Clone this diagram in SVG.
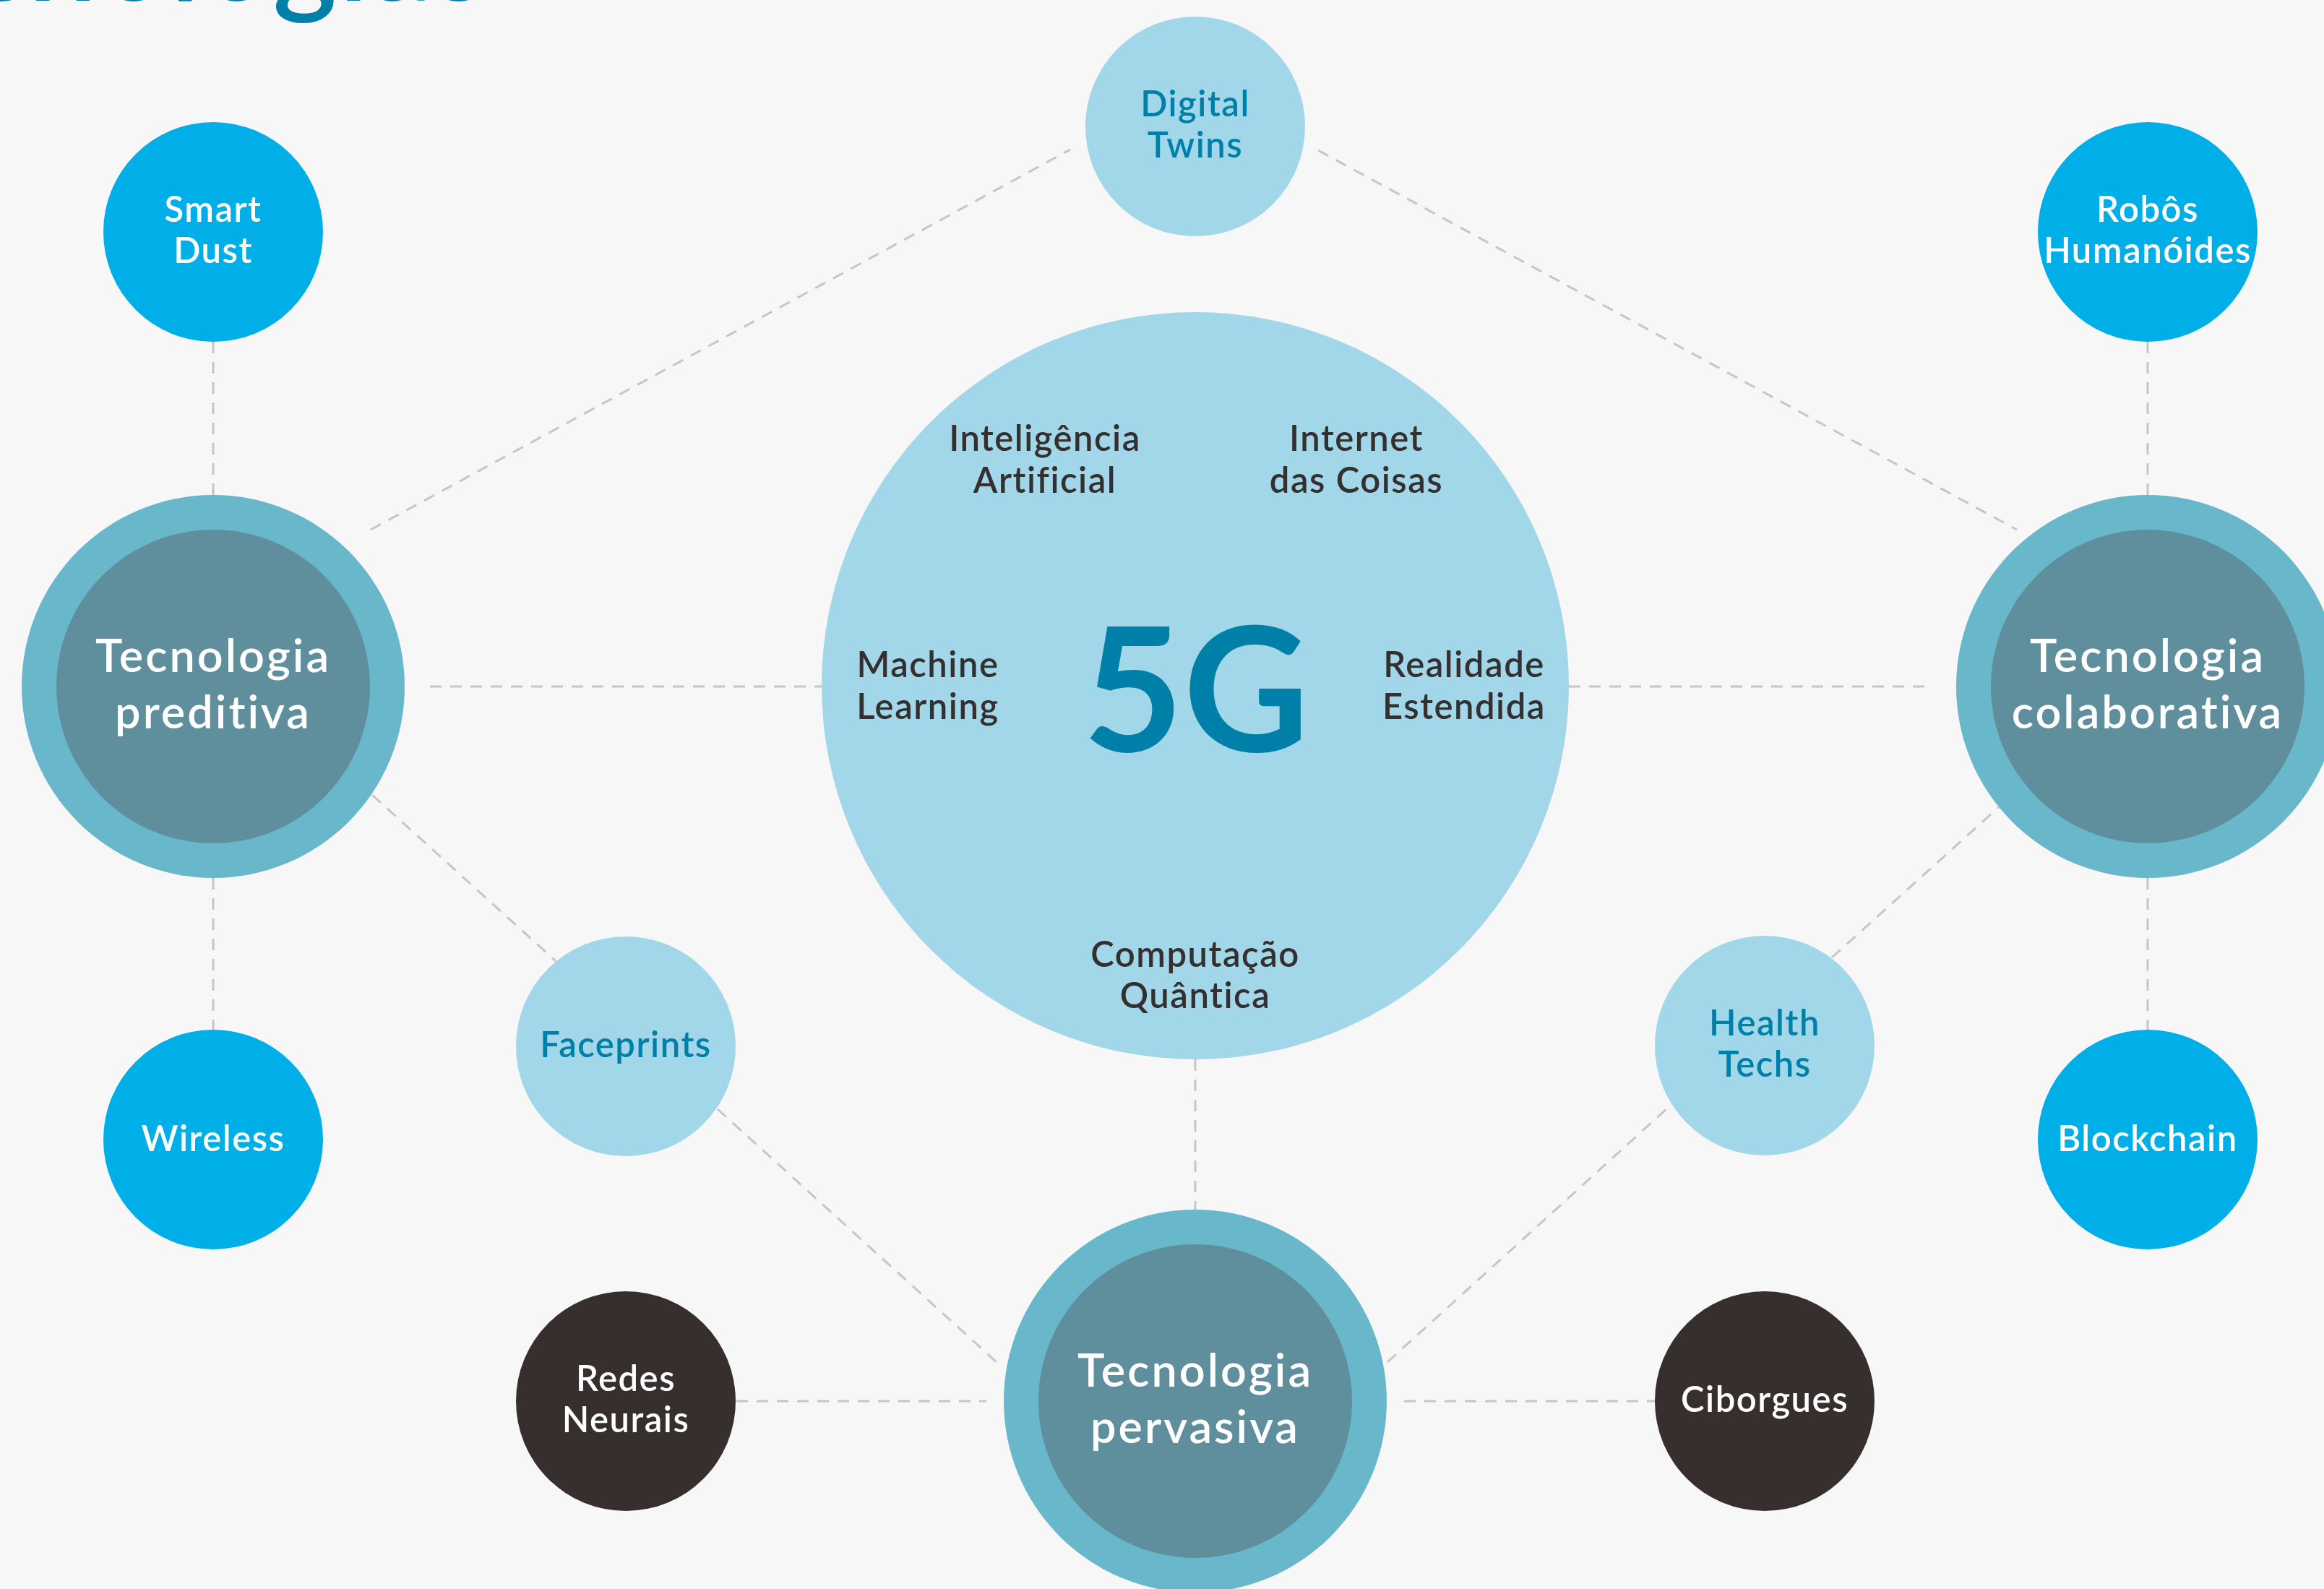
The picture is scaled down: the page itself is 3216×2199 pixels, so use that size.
<svg xmlns="http://www.w3.org/2000/svg" width="3216" height="2199" viewBox="0 0 3216 2199">
<style>
text{font-family:"Lato","Noto Sans","DejaVu Sans",sans-serif;text-anchor:middle}
.lbl{font-size:49px;font-weight:600;letter-spacing:1.5px}
.w{fill:#ffffff}
.b{fill:#0080a8}
.d{fill:#35302f}
.big{font-size:63px;font-weight:600;letter-spacing:3px;fill:#ffffff}
.lb{fill:#a1d7e8}
.bb{fill:#00aee8}
.dk{fill:#372f2e}
.ring{fill:#68b7cb}
.inner{fill:#5f8f9c}
.con line{stroke:#c6c6c6;stroke-width:3;stroke-dasharray:16 12;fill:none}
</style>
<rect width="3216" height="2199" fill="#f7f7f7"/>
<text x="676" y="1" style="font-size:170px;font-weight:600;letter-spacing:2px;text-anchor:end" fill="#0080a8">tecnologias</text>
<g id="connectors" class="con">
<line x1="295" y1="473" x2="295" y2="685"/>
<line x1="295" y1="1215" x2="295" y2="1425"/>
<line x1="2972" y1="473" x2="2972" y2="685"/>
<line x1="2972" y1="1215" x2="2972" y2="1425"/>
<line x1="1654" y1="1466" x2="1654" y2="1674"/>
<line x1="595" y1="950" x2="1137" y2="950"/>
<line x1="2171" y1="950" x2="2672" y2="950"/>
<line x1="1019" y1="1939" x2="1365" y2="1939"/>
<line x1="1943" y1="1939" x2="2290" y2="1939"/>
<line x1="513" y1="733" x2="1481" y2="207"/>
<line x1="1824" y1="208" x2="2791" y2="733"/>
<line x1="515" y1="1100" x2="769" y2="1330"/>
<line x1="993" y1="1535" x2="1379" y2="1885"/>
<line x1="1920" y1="1885" x2="2307" y2="1534"/>
<line x1="2535" y1="1325" x2="2766" y2="1117"/>
</g>
<g id="n5g">
<circle class="lb" cx="1654" cy="949" r="517"/>
<text x="1655" y="1040" style="font-size:240px;font-weight:700" fill="#0080a8">5G</text>
<text class="lbl d" x="1446" y="624">Inteligência</text>
<text class="lbl d" x="1446" y="682">Artificial</text>
<text class="lbl d" x="1877" y="624">Internet</text>
<text class="lbl d" x="1877" y="682">das Coisas</text>
<text class="lbl d" x="1284" y="937">Machine</text>
<text class="lbl d" x="1284" y="995">Learning</text>
<text class="lbl d" x="2026" y="937">Realidade</text>
<text class="lbl d" x="2026" y="995">Estendida</text>
<text class="lbl d" x="1654" y="1338">Computação</text>
<text class="lbl d" x="1654" y="1395">Quântica</text>
</g>
<g id="digital-twins">
<circle class="lb" cx="1654" cy="175" r="152"/>
<text class="lbl b" x="1654" y="161">Digital</text>
<text class="lbl b" x="1654" y="218">Twins</text>
</g>
<g id="smart-dust">
<circle class="bb" cx="295" cy="321" r="152"/>
<text class="lbl w" x="295" y="307">Smart</text>
<text class="lbl w" x="295" y="364">Dust</text>
</g>
<g id="robos">
<circle class="bb" cx="2972" cy="321" r="152"/>
<text class="lbl w" x="2972" y="307">Robôs</text>
<text class="lbl w" x="2972" y="364">Humanóides</text>
</g>
<g id="preditiva">
<circle class="ring" cx="295" cy="950" r="265"/>
<circle class="inner" cx="295" cy="950" r="217"/>
<text class="big" x="295" y="930">Tecnologia</text>
<text class="big" x="295" y="1008">preditiva</text>
</g>
<g id="colaborativa">
<circle class="ring" cx="2972" cy="950" r="265"/>
<circle class="inner" cx="2972" cy="950" r="217"/>
<text class="big" x="2972" y="930">Tecnologia</text>
<text class="big" x="2972" y="1008">colaborativa</text>
</g>
<g id="pervasiva">
<circle class="ring" cx="1654" cy="1939" r="265"/>
<circle class="inner" cx="1654" cy="1939" r="217"/>
<text class="big" x="1654" y="1919">Tecnologia</text>
<text class="big" x="1654" y="1997">pervasiva</text>
</g>
<g id="wireless">
<circle class="bb" cx="295" cy="1577" r="152"/>
<text class="lbl w" x="295" y="1593">Wireless</text>
</g>
<g id="blockchain">
<circle class="bb" cx="2972" cy="1577" r="152"/>
<text class="lbl w" x="2972" y="1593">Blockchain</text>
</g>
<g id="faceprints">
<circle class="lb" cx="866" cy="1448" r="152"/>
<text class="lbl b" x="866" y="1463">Faceprints</text>
</g>
<g id="health-techs">
<circle class="lb" cx="2442" cy="1447" r="152"/>
<text class="lbl b" x="2442" y="1433">Health</text>
<text class="lbl b" x="2442" y="1490">Techs</text>
</g>
<g id="redes-neurais">
<circle class="dk" cx="866" cy="1939" r="152"/>
<text class="lbl w" x="866" y="1925">Redes</text>
<text class="lbl w" x="866" y="1982">Neurais</text>
</g>
<g id="ciborgues">
<circle class="dk" cx="2442" cy="1939" r="152"/>
<text class="lbl w" x="2442" y="1954">Ciborgues</text>
</g>
</svg>
